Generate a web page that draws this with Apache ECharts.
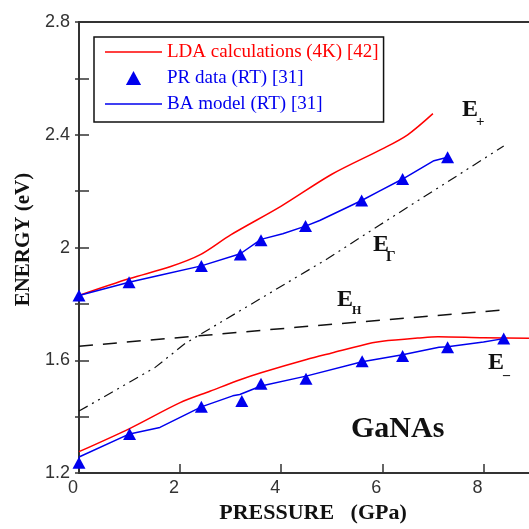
<!DOCTYPE html>
<html><head><meta charset="utf-8">
<script src="https://cdn.jsdelivr.net/npm/echarts@6/dist/echarts.min.js"></script>
<style>html,body{margin:0;padding:0;background:#fff}#c{width:529px;height:529px}</style>
</head><body><div id="c"></div>
<script>
// ---- data (pressure GPa, energy eV) ----
const ldaUpperP = [0, 1, 1.8, 2.4, 3, 4, 5, 6, 6.5, 7];
const ldaUpperE = [1.83, 1.89, 1.932, 1.975, 2.045, 2.147, 2.26, 2.35, 2.40, 2.475];
const ldaLowerP = [0, 1, 2, 2.6, 3.2, 3.6, 4.5, 5, 5.8, 6, 6.7, 7.1, 8, 9];
const ldaLowerE = [1.276, 1.358, 1.45, 1.491, 1.532, 1.556, 1.603, 1.626, 1.662, 1.668, 1.679, 1.684, 1.68, 1.678];
const prUpperP = [0, 0.99, 2.42, 3.19, 3.6, 4.48, 5.59, 6.4, 7.29];
const prUpperE = [1.83, 1.877, 1.935, 1.975, 2.026, 2.076, 2.167, 2.243, 2.32];
const prLowerP = [0, 1.0, 2.42, 3.22, 3.6, 4.49, 5.6, 6.4, 7.29, 8.4];
const prLowerE = [1.237, 1.339, 1.435, 1.456, 1.517, 1.535, 1.597, 1.615, 1.646, 1.677];
const baUpperP = [0, 0.99, 1.6, 2.42, 3.19, 3.6, 4.03, 4.48, 4.76, 5.59, 5.94, 6.4, 7.02, 7.29];
const baUpperE = [1.83, 1.877, 1.902, 1.935, 1.978, 2.029, 2.049, 2.076, 2.096, 2.167, 2.2, 2.243, 2.308, 2.32];
const baLowerP = [0, 1.0, 1.6, 2.42, 3.04, 3.18, 3.6, 4.49, 5.6, 6.4, 7.12, 7.29, 8, 8.4];
const baLowerE = [1.257, 1.339, 1.362, 1.435, 1.474, 1.479, 1.509, 1.544, 1.595, 1.62, 1.646, 1.648, 1.665, 1.677];
const eGammaP = [0, 1.5, 2.1, 4.92, 5.94, 8.4];
const eGammaE = [1.42, 1.574, 1.66, 1.961, 2.079, 2.36];
const eHP = [0, 4.3, 8.36];
const eHE = [1.65, 1.717, 1.778];
const xTickLabels = ['0', '2', '4', '6', '8'];
const yTickLabels = ['1.2', '1.6', '2', '2.4', '2.8'];
const seriesNames = ['LDA calculations (4K) [42]', 'PR data (RT) [31]', 'BA model (RT) [31]'];

const zip = (a, b) => a.map((v, i) => [v, b[i]]);
const RED = '#ff0000', BLUE = '#0000ee', INK = '#111';
const SERIF = '"Liberation Serif", "Times New Roman", serif';
const LINE_ICON = 'path://M0,0 L60,0 L60,1.6 L0,1.6 Z';
const TRI_ICON = 'path://M0,12 L6.5,0 L13,12 Z';
const X_MAX = 8.9;

const chart = echarts.init(document.getElementById('c'), null, {renderer: 'canvas'});
const axisLine = {show: true, lineStyle: {color: '#333', width: 2}};
chart.setOption({
  animation: false,
  backgroundColor: '#fff',
  grid: {left: 79, right: 0, top: 22, bottom: 53, containLabel: false},
  xAxis: [{
    type: 'value', min: 0, max: X_MAX, interval: 2, position: 'bottom',
    axisLine: axisLine, splitLine: {show: false},
    axisTick: {show: true, inside: true, length: 9, lineStyle: {color: '#333', width: 1.5}},
    axisLabel: {
      fontFamily: '"Liberation Sans", Arial, sans-serif', fontSize: 18, color: '#333', margin: 6,
      padding: [0, 12, 0, 0], showMaxLabel: false,
      formatter: v => { const i = Math.round(v / 2); return (Math.abs(v - i * 2) < 1e-6 && i < xTickLabels.length) ? xTickLabels[i] : ''; }
    },
    name: 'PRESSURE   (GPa)', nameLocation: 'middle', nameGap: 27,
    nameTextStyle: {fontFamily: SERIF, fontWeight: 'bold', fontSize: 22, color: '#111', padding: [0, 0, 0, 18]}
  }, {
    type: 'value', min: 0, max: X_MAX, interval: 2, position: 'top',
    axisLine: axisLine, axisTick: {show: false}, axisLabel: {show: false}, splitLine: {show: false}
  }],
  yAxis: [{
    type: 'value', min: 1.2, max: 2.8, interval: 0.2,
    axisLine: axisLine, splitLine: {show: false},
    axisTick: {show: true, inside: true, length: 10, lineStyle: {color: '#333', width: 1.5}},
    axisLabel: {
      fontFamily: '"Liberation Sans", Arial, sans-serif', fontSize: 18, color: '#333', margin: 9,
      formatter: v => { const i = Math.round((v - 1.2) / 0.2); return i % 2 === 0 ? (yTickLabels[i / 2] || '') : ''; }
    },
    name: 'ENERGY (eV)', nameLocation: 'middle', nameGap: 43, nameRotate: 90,
    nameTextStyle: {fontFamily: SERIF, fontWeight: 'bold', fontSize: 21, color: '#111', padding: [0, 0, 0, 16]}
  }, {
    type: 'value', min: 1.2, max: 2.8, interval: 0.2, position: 'right',
    axisLine: {show: false}, splitLine: {show: false}, axisLabel: {show: false},
    axisTick: {show: true, inside: true, length: 4, lineStyle: {color: '#333', width: 1.5}}
  }],
  legend: {
    orient: 'vertical', left: 94, top: 37,
    padding: [5, 5, 8, 11], itemGap: 6, itemWidth: 57, itemHeight: 14,
    borderColor: '#111', borderWidth: 1.5, backgroundColor: '#fff',
    textStyle: {fontFamily: SERIF, fontSize: 19, lineHeight: 20},
    data: [
      {name: seriesNames[0], icon: LINE_ICON, itemStyle: {color: RED}, textStyle: {color: RED}},
      {name: seriesNames[1], icon: TRI_ICON, itemStyle: {color: BLUE}, textStyle: {color: BLUE}},
      {name: seriesNames[2], icon: LINE_ICON, itemStyle: {color: BLUE}, textStyle: {color: BLUE}}
    ]
  },
  graphic: [
    {type: 'text', left: 462, top: 98, style: {text: 'E', font: 'bold 24px ' + SERIF, fill: INK}},
    {type: 'text', left: 476, top: 115, style: {text: '+', font: 'bold 15px ' + SERIF, fill: INK}},
    {type: 'text', left: 373, top: 233, style: {text: 'E', font: 'bold 24px ' + SERIF, fill: INK}},
    {type: 'text', left: 386, top: 250, style: {text: 'Γ', font: 'bold 15px ' + SERIF, fill: INK}},
    {type: 'text', left: 337, top: 288, style: {text: 'E', font: 'bold 24px ' + SERIF, fill: INK}},
    {type: 'text', left: 352, top: 305, style: {text: 'H', font: 'bold 12px ' + SERIF, fill: INK}},
    {type: 'text', left: 488, top: 351, style: {text: 'E', font: 'bold 24px ' + SERIF, fill: INK}},
    {type: 'text', left: 503, top: 368, style: {text: '–', font: 'bold 14px ' + SERIF, fill: INK}},
    {type: 'text', left: 351, top: 414, style: {text: 'GaNAs', font: 'bold 30px ' + SERIF, fill: INK}}
  ],
  series: [
    {name: seriesNames[0], type: 'line', data: zip(ldaUpperP, ldaUpperE), symbol: 'none', smooth: 0.3,
     lineStyle: {color: RED, width: 1.5}, itemStyle: {color: RED}, z: 3},
    {name: seriesNames[0], type: 'line', data: zip(ldaLowerP, ldaLowerE), symbol: 'none', smooth: 0.3,
     lineStyle: {color: RED, width: 1.5}, itemStyle: {color: RED}, z: 3},
    {name: seriesNames[2], type: 'line', data: zip(baUpperP, baUpperE), symbol: 'none',
     lineStyle: {color: BLUE, width: 1.5}, itemStyle: {color: BLUE}, z: 4},
    {name: seriesNames[2], type: 'line', data: zip(baLowerP, baLowerE), symbol: 'none',
     lineStyle: {color: BLUE, width: 1.5}, itemStyle: {color: BLUE}, z: 4},
    {name: seriesNames[1], type: 'scatter', data: zip(prUpperP, prUpperE), symbol: 'triangle', symbolSize: [13, 12],
     itemStyle: {color: BLUE, opacity: 1}, z: 5},
    {name: seriesNames[1], type: 'scatter', data: zip(prLowerP, prLowerE), symbol: 'triangle', symbolSize: [13, 12],
     itemStyle: {color: BLUE, opacity: 1}, z: 5},
    {name: 'EG', type: 'line', data: zip(eGammaP, eGammaE), symbol: 'none',
     lineStyle: {color: INK, width: 1.2, type: [10, 5, 2, 5, 2, 5]}, z: 2},
    {name: 'EH', type: 'line', data: zip(eHP, eHE), symbol: 'none',
     lineStyle: {color: INK, width: 1.5, type: [14, 10]}, z: 2}
  ]
});
</script></body></html>
